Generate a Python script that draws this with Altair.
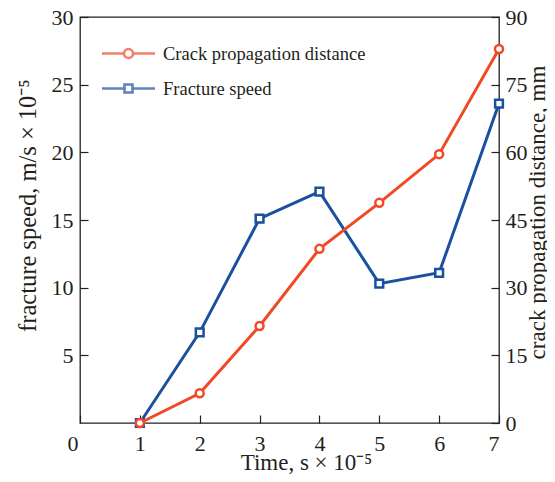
import altair as alt
import pandas as pd

# ---- data ----
time = [1, 2, 3, 4, 5, 6, 7]
speed = [0, 6.7, 15.1, 17.1, 10.3, 11.1, 23.6]          # fracture speed, m/s x 1e-5 (left axis)
distance = [0, 6.6, 21.5, 38.6, 48.8, 59.6, 82.9]       # crack propagation distance, mm (right axis)
series_names = ["Crack propagation distance", "Fracture speed"]
x_ticks = [0, 1, 2, 3, 4, 5, 6, 7]
left_ticks = [5, 10, 15, 20, 25, 30]
right_ticks = [0, 15, 30, 45, 60, 75, 90]

RED = "#ef4a25"
BLUE = "#1b4f9f"
INK = "#231f20"
FONT = "Liberation Serif"

df = pd.DataFrame({"time": time, "speed": speed, "distance": distance})

x_axis = alt.Axis(
    values=x_ticks,
    tickSize=alt.ExprRef(expr="-8"),
    tickColor=INK,
    tickWidth=1.2,
    labelPadding=18,
    labelOffset={"condition": {"test": "datum.value === 0", "value": -13}, "value": 0},
    title="Time, s × 10⁻⁵",
    titleFontSize=23,
    titleX=226,
    titleY=39.5,
    titleAlign="center",
    titleBaseline="middle",
    grid=False,
    domain=False,
)
x_scale = alt.Scale(domain=[0, 7], nice=False, zero=False)

speed_layer = alt.Chart(df).mark_line(
    color=BLUE,
    strokeWidth=3,
    point=alt.OverlayMarkDef(shape="square", filled=True, fill="white",
                             stroke=BLUE, strokeWidth=2.5, size=60),
).encode(
    x=alt.X("time:Q", scale=x_scale, axis=x_axis),
    y=alt.Y(
        "speed:Q",
        scale=alt.Scale(domain=[0, 30], nice=False),
        axis=alt.Axis(
            orient="left",
            values=left_ticks,
            tickSize=alt.ExprRef(expr="-8"),
            tickColor=INK,
            tickWidth=1.2,
            labelPadding=15,
            title="fracture speed, m/s × 10⁻⁵",
            titleFontSize=24.5,
            titleAngle=270,
            titleX=-52,
            titleY=188,
            titleAlign="center",
            titleBaseline="middle",
            grid=False,
            domain=False,
        ),
    ),
)

dist_layer = alt.Chart(df).mark_line(
    color=RED,
    strokeWidth=3,
    point=alt.OverlayMarkDef(shape="circle", filled=True, fill="white",
                             stroke=RED, strokeWidth=2.5, size=64),
).encode(
    x=alt.X("time:Q", scale=x_scale, axis=x_axis),
    y=alt.Y(
        "distance:Q",
        scale=alt.Scale(domain=[0, 90], nice=False),
        axis=alt.Axis(
            orient="right",
            values=right_ticks,
            tickSize=alt.ExprRef(expr="-8"),
            tickColor=INK,
            tickWidth=1.2,
            labelPadding=14,
            title="crack propagation distance, mm",
            titleFontSize=23,
            titleAngle=270,
            titleX=38.5,
            titleY=195,
            titleAlign="center",
            titleBaseline="middle",
            grid=False,
            domain=False,
        ),
    ),
)

# legend glyphs: line with marker, as custom symbol paths
circle_path = ("M-2.65,0L-0.45,0M0.45,0L2.65,0"
               "M-0.45,0A0.45,0.45 0 1,0 0.45,0A0.45,0.45 0 1,0 -0.45,0")
square_path = ("M-2.65,0L-0.4,0M0.4,0L2.65,0"
               "M-0.4,-0.4L0.4,-0.4L0.4,0.4L-0.4,0.4Z")

legend_def = dict(
    title=None,
    orient="none",
    legendX=37,
    legendY=25,
    padding=0,
    symbolSize=400,
    symbolStrokeWidth=2.6,
    labelOffset=23,
    rowPadding=13,
    labelLimit=400,
    labelFont=FONT,
    labelFontSize=18.5,
    labelColor=INK,
)

legend_layer = alt.Chart(alt.InlineData(values=[{"series": "dummy"}])).transform_filter(
    "datum.series !== 'dummy'"
).mark_point(size=400, strokeWidth=2.6, filled=False).encode(
    shape=alt.Shape("series:N",
                    scale=alt.Scale(domain=series_names, range=[circle_path, square_path]),
                    legend=alt.Legend(**legend_def)),
    color=alt.Color("series:N",
                    scale=alt.Scale(domain=series_names, range=[RED, BLUE]),
                    legend=alt.Legend(**legend_def)),
)

chart = alt.layer(speed_layer, dist_layer, legend_layer).resolve_scale(
    y="independent"
).properties(
    width=419,
    height=406,
    autosize="none",
    padding={"left": 72, "top": 9, "right": 48, "bottom": 51},
).configure_view(
    stroke=INK,
    strokeWidth=1.3,
).configure_axis(
    labelFont=FONT,
    labelFontSize=22,
    labelColor=INK,
    titleFont=FONT,
    titleFontSize=23.5,
    titleFontWeight="normal",
    titleColor=INK,
)

chart.save("out.html", embed_options={"renderer": "svg", "actions": False})
